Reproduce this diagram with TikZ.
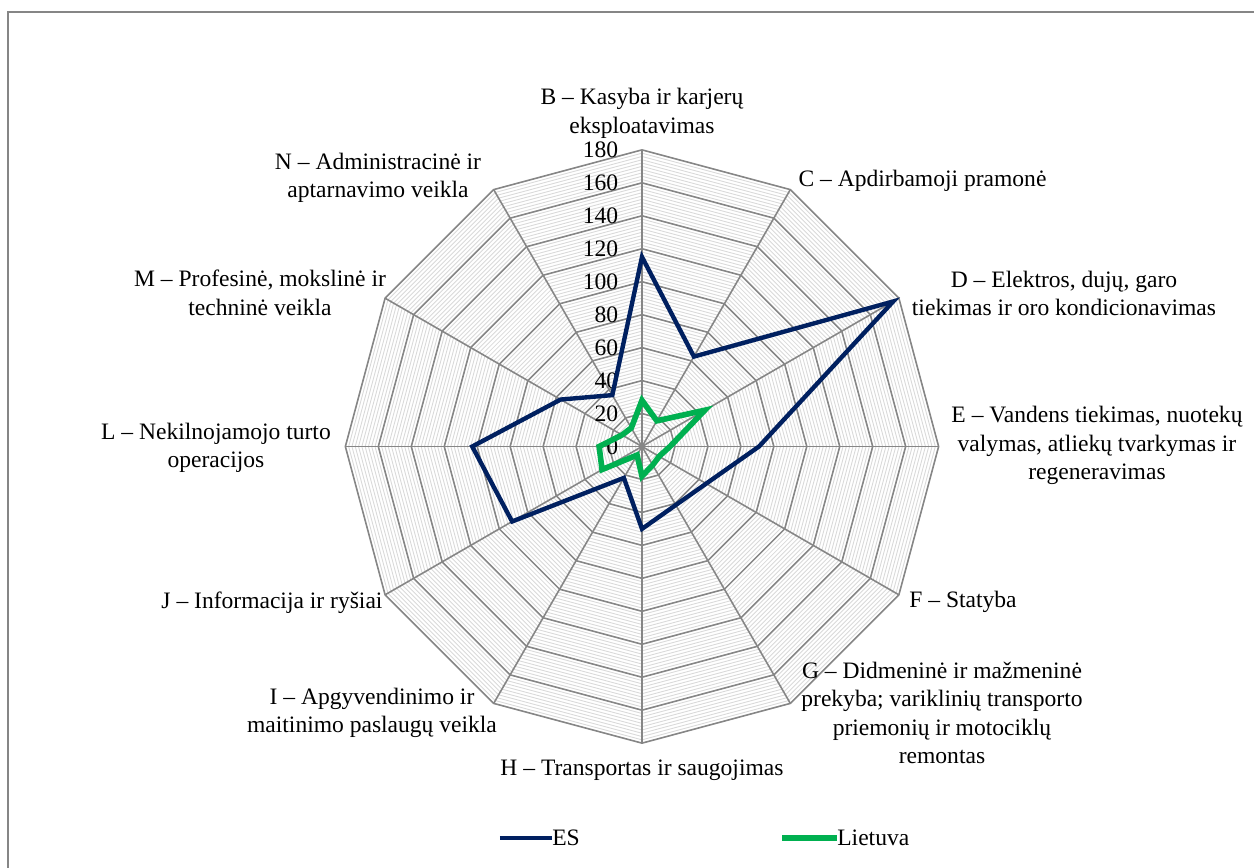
\documentclass[tikz,border=0pt]{standalone}
\usepackage{fontspec}
\setmainfont{Liberation Serif}
\usetikzlibrary{positioning}
\definecolor{esblue}{HTML}{002060}
\definecolor{ltgreen}{HTML}{00B050}
\definecolor{majorgrid}{HTML}{868686}
\definecolor{minorgrid}{HTML}{D9D9D9}
\newcommand{\rs}{0.03296}
\tikzset{
  minorring/.style={draw=minorgrid, line width=0.5pt},
  majorring/.style={draw=majorgrid, line width=0.9pt},
  seriesES/.style={draw=esblue, line width=2.5pt},
  seriesLT/.style={draw=ltgreen, line width=3.2pt},
  catlabel/.style={align=center, inner sep=0pt, font=\fontsize{13.4}{16.2}\selectfont},
  ticklabel/.style={anchor=east, inner sep=0pt, font=\fontsize{13.4}{16.2}\selectfont}
}

\begin{document}
\begin{tikzpicture}
\useasboundingbox (-12.84,-8.41) rectangle (12.24,8.93);
% chart frame
\draw[majorgrid, line width=1.2pt] (12.3,8.69) -- (-12.68,8.69) -- (-12.68,-8.5);

% rings and spokes
\foreach \v in {2,4,...,180}
  \draw[minorring] (90:{\v*\rs}) \foreach \a in {60,30,...,-240} { -- (\a:{\v*\rs}) } -- cycle;
\foreach \v in {20,40,...,180}
  \draw[majorring] (90:{\v*\rs}) \foreach \a in {60,30,...,-240} { -- (\a:{\v*\rs}) } -- cycle;
\coordinate (ctr) at (0,0);
\foreach \a in {90,60,...,-240}
  \draw[majorring] (ctr) -- (\a:{180*\rs});

% axis values
\foreach \v in {0,20,...,180}
  \node[ticklabel] (tick-\v) at (-0.47,{\v*\rs}) {\v};

% data points
\foreach \n/\a/\v in {B/90/115, C/60/63, D/30/176, E/0/71, F/-30/45, G/-60/41,
                      H/-90/50, I/-120/22, J/-150/91, L/180/103, M/150/57, N/120/36}
  \coordinate (es-\n) at (\a:{\v*\rs});
\foreach \n/\a/\v in {B/90/28, C/60/18, D/30/44, E/0/17, F/-30/12, G/-60/13,
                      H/-90/18, I/-120/6, J/-150/28, L/180/26, M/150/14, N/120/13}
  \coordinate (lt-\n) at (\a:{\v*\rs});

\draw[seriesES] (es-B) -- (es-C) -- (es-D) -- (es-E) -- (es-F) -- (es-G) -- (es-H)
  -- (es-I) -- (es-J) -- (es-L) -- (es-M) -- (es-N) -- cycle;
\draw[seriesLT] (lt-B) -- (lt-C) -- (lt-D) -- (lt-E) -- (lt-F) -- (lt-G) -- (lt-H)
  -- (lt-I) -- (lt-J) -- (lt-L) -- (lt-M) -- (lt-N) -- cycle;

% category labels
\node[catlabel] (cat-B) at (0,6.66) {B – Kasyba ir karjerų\\eksploatavimas};
\node[catlabel] (cat-C) at (5.61,5.31) {C – Apdirbamoji pramonė};
\node[catlabel] (cat-D) at (8.44,3.06) {D – Elektros, dujų, garo\\tiekimas ir oro kondicionavimas};
\node[catlabel] (cat-E) at (9.10,0.02) {E – Vandens tiekimas, nuotekų\\valymas, atliekų tvarkymas ir\\regeneravimas};
\node[catlabel] (cat-F) at (6.42,-3.11) {F – Statyba};
\node[catlabel] (cat-G) at (6.0,-5.33) {G – Didmeninė ir mažmeninė\\prekyba; variklinių transporto\\priemonių ir motociklų\\remontas};
\node[catlabel] (cat-H) at (0,-6.47) {H – Transportas ir saugojimas};
\node[catlabel] (cat-I) at (-5.4,-5.33) {I – Apgyvendinimo ir\\maitinimo paslaugų veikla};
\node[catlabel] (cat-J) at (-7.4,-3.13) {J – Informacija ir ryšiai};
\node[catlabel] (cat-L) at (-8.52,-0.03) {L – Nekilnojamojo turto\\operacijos};
\node[catlabel] (cat-M) at (-7.64,3.07) {M – Profesinė, mokslinė ir\\techninė veikla};
\node[catlabel] (cat-N) at (-5.28,5.37) {N – Administracinė ir\\aptarnavimo veikla};

% legend
\coordinate (leg-es-a) at (-2.84,-7.83);
\coordinate (leg-es-b) at (-1.80,-7.83);
\draw[seriesES] (leg-es-a) -- (leg-es-b);
\node[catlabel, anchor=west] (leg-es) at (leg-es-b) {ES};
\coordinate (leg-lt-a) at (2.80,-7.83);
\coordinate (leg-lt-b) at (3.90,-7.83);
\draw[seriesLT] (leg-lt-a) -- (leg-lt-b);
\node[catlabel, anchor=west] (leg-lt) at (leg-lt-b) {Lietuva};
\end{tikzpicture}
\end{document}
